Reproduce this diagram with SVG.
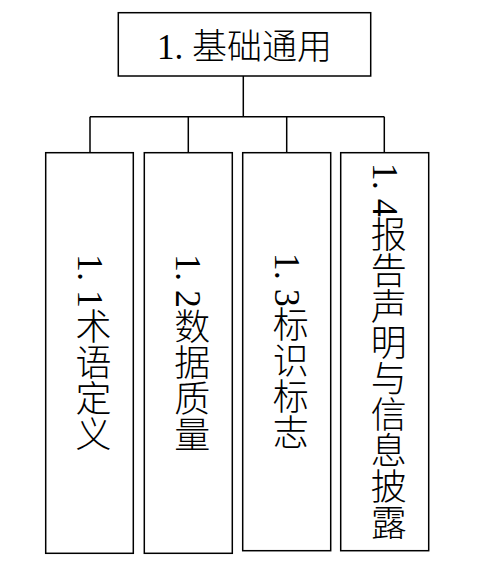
<svg xmlns="http://www.w3.org/2000/svg" width="477" height="568" viewBox="0 0 477 568">
<style>
.box{fill:#fff;stroke:#000;stroke-width:1.5}
.ln{fill:none;stroke:#000;stroke-width:1.5}
.t{font-family:"Liberation Serif","Noto Sans CJK SC",serif;fill:#000;font-weight:300}
.v{writing-mode:vertical-rl;text-orientation:mixed;font-size:36px}
</style>
<rect width="477" height="568" fill="#fff"/>
<g id="connectors">
<path class="ln" d="M243.3 76V116.7M90 116.7H384.3M90 116.7V152.7M188.3 116.7V152.7M286.7 116.7V152.7M384.3 116.7V152.7"/>
</g>
<g id="n0">
<rect class="box" x="118.3" y="12.7" width="252.4" height="63.3"/>
<text class="t" x="244.5" y="58.5" font-size="35" text-anchor="middle">1. 基础通用</text>
</g>
<g id="n1">
<rect class="box" x="45.7" y="152.7" width="87.6" height="400.6"/>
<text class="t v" x="89.5" y="353" text-anchor="middle">1. 1术语定义</text>
</g>
<g id="n2">
<rect class="box" x="144.3" y="152.7" width="88" height="400.6"/>
<text class="t v" x="188.3" y="353" text-anchor="middle">1. 2数据质量</text>
</g>
<g id="n3">
<rect class="box" x="242.7" y="152.7" width="88" height="398"/>
<text class="t v" x="286.7" y="351.7" text-anchor="middle">1. 3标识标志</text>
</g>
<g id="n4">
<rect class="box" x="340.7" y="152.7" width="88" height="398"/>
<text class="t v" x="384.7" y="351.7" text-anchor="middle">1. 4报告声明与信息披露</text>
</g>
</svg>
